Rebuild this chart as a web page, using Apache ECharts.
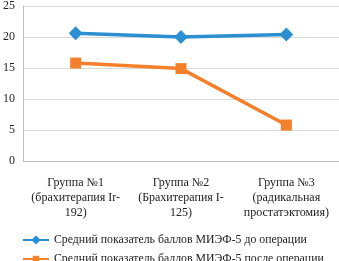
<!DOCTYPE html>
<html>
<head>
<meta charset="utf-8">
<script src="https://cdn.jsdelivr.net/npm/echarts@6/dist/echarts.min.js"></script>
<style>
  html, body { margin: 0; padding: 0; background: #fff; }
  #chart { width: 339px; height: 261px; }
</style>
</head>
<body>
<div id="chart"></div>
<script>
const categories = [
  "Группа №1\n(брахитерапия Ir-\n192)",
  "Группа №2\n(Брахитерапия I-\n125)",
  "Группа №3\n(радикальная\nпростатэктомия)"
];
const beforeName = "Средний показатель баллов МИЭФ-5 до операции";
const afterName = "Средний показатель баллов МИЭФ-5 после операции";
const beforeValues = [20.6, 20.0, 20.4];
const afterValues = [15.8, 14.9, 5.8];

const font = "Liberation Serif";
const chart = echarts.init(document.getElementById("chart"));

const legendBase = {
  left: 17,
  itemWidth: 26,
  itemHeight: 8,
  itemGap: 4,
  textStyle: { color: "#222", fontFamily: font, fontSize: 11.8 }
};

chart.setOption({
  animation: false,
  textStyle: { fontFamily: font },
  grid: { left: 22, right: 0, top: 4, bottom: 100 },
  xAxis: {
    type: "category",
    data: categories,
    boundaryGap: true,
    axisLine: { lineStyle: { color: "#bfbfbf" } },
    axisTick: { show: false },
    axisLabel: {
      interval: 0,
      color: "#222",
      fontFamily: font,
      fontSize: 12,
      lineHeight: 15,
      margin: 14
    }
  },
  yAxis: {
    type: "value",
    min: 0,
    max: 25,
    interval: 5,
    axisLine: { show: true, lineStyle: { color: "#bfbfbf" } },
    axisLabel: { color: "#222", fontFamily: font, fontSize: 12, margin: 8 },
    splitLine: { lineStyle: { color: "#d9d9d9" } }
  },
  legend: [
    Object.assign({ top: 229, data: [beforeName] }, legendBase),
    Object.assign({ top: 248, data: [afterName] }, legendBase)
  ],
  series: [
    {
      name: beforeName,
      type: "line",
      data: beforeValues,
      symbol: "diamond",
      symbolSize: 11,
      lineStyle: { color: "#2b8fd2", width: 3.5 },
      itemStyle: { color: "#2b8fd2", borderColor: "#2b8fd2", borderWidth: 2 }
    },
    {
      name: afterName,
      type: "line",
      data: afterValues,
      symbol: "rect",
      symbolSize: 11,
      lineStyle: { color: "#f4802b", width: 3.5 },
      itemStyle: { color: "#f4802b" }
    }
  ]
});
</script>
</body>
</html>
